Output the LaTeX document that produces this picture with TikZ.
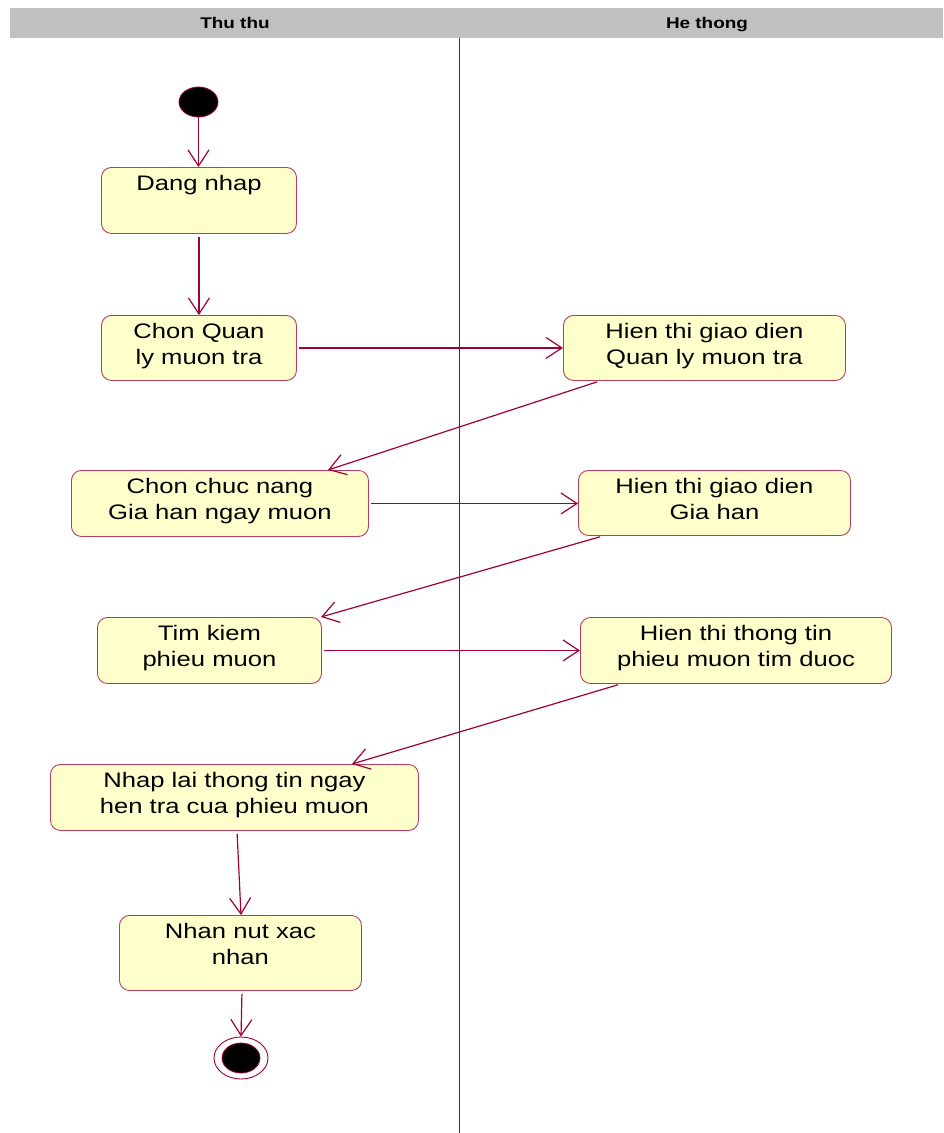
\documentclass[tikz,border=0pt]{standalone}
\usepackage{fontspec}
\usetikzlibrary{arrows.meta,calc,shapes.geometric}
\newfontfamily\boxfont[FakeStretch=1.22]{Liberation Sans}

\definecolor{flow}{RGB}{160,0,55}
\definecolor{edge}{RGB}{185,60,95}
\definecolor{actfill}{RGB}{255,255,204}
\definecolor{lanegray}{RGB}{192,192,192}

\tikzset{
  % two-line activity text: the baseline of the last line is the node's base,
  % so text height covers the top padding plus one line skip
  act/.style={draw=edge, fill=actfill, rounded corners=10pt, line width=0.9pt,
    anchor=north west, inner xsep=0pt, inner ysep=0pt, align=center,
    font=\boxfont\fontsize{21}{26}\selectfont, text height=49pt},
  flowline/.style={draw=flow, line width=1.2pt,
    -{Straight Barb[length=16pt,width=21pt]}},
  lanehead/.style={font=\boxfont\bfseries\fontsize{15.5}{18}\selectfont,
    anchor=base, inner sep=0pt},
  startdot/.style={ellipse, draw=flow, fill=black, line width=0.8pt, inner sep=0pt},
}

\begin{document}
\begin{tikzpicture}[x=1pt,y=-1pt]
\useasboundingbox (0,0) rectangle (943,1133);

% swimlane header and divider
\fill[lanegray] (10,8) rectangle (943,38);
\node[lanehead] (laneA) at (235,28) {Thu thu};
\node[lanehead] (laneB) at (707,28) {He thong};
\coordinate (divtop) at (459.5,38);
\coordinate (divbot) at (459.5,1133);
\draw[flow, line width=1.4pt] (divtop) -- (divbot);

% initial node
\node[startdot, minimum width=39pt, minimum height=30pt] (start) at (198.5,102) {};

% activities: Thu thu lane
\node[act, minimum width=195pt, text depth=17pt] (dn) at (101,167) {Dang nhap\\\mbox{}};
\node[act, minimum width=195pt, text depth=16pt] (cq) at (101,315) {Chon Quan\\ ly muon tra};
\node[act, minimum width=297pt, text depth=17pt] (ccn) at (71,470) {Chon chuc nang\\ Gia han ngay muon};
\node[act, minimum width=224pt, text depth=17pt] (tk) at (97,617) {Tim kiem\\ phieu muon};
\node[act, minimum width=368pt, text depth=17pt] (nl) at (50,764) {Nhap lai thong tin ngay\\ hen tra cua phieu muon};
\node[act, minimum width=242pt, text depth=26pt] (nn) at (119,915) {Nhan nut xac\\ nhan};

% activities: He thong lane
\node[act, minimum width=282pt, text depth=16pt] (htql) at (563,315) {Hien thi giao dien\\ Quan ly muon tra};
\node[act, minimum width=272pt, text depth=16pt] (htgh) at (578,470) {Hien thi giao dien\\ Gia han};
\node[act, minimum width=311pt, text depth=17pt] (httt) at (580,617) {Hien thi thong tin\\ phieu muon tim duoc};

% final node
\node[ellipse, draw=flow, line width=0.9pt, minimum width=54pt, minimum height=42pt, inner sep=0pt] (end) at (241,1058) {};
\node[startdot, minimum width=38pt, minimum height=30pt] (endin) at (end.center) {};

% control flow
\draw[flowline] (start.south) -- (start.south |- dn.north);
\draw[flowline, shorten <=3pt] (dn.south) -- (dn.south |- cq.north);
\draw[flowline, shorten <=2pt] (cq.east) -- (cq.east -| htql.west);
\draw[flowline, shorten <=3pt] ([xshift=37pt]htql.south west) -- ([xshift=257pt]ccn.north west);
\draw[flowline, shorten <=2pt] (ccn.east) -- (ccn.east -| htgh.west);
\draw[flowline, shorten <=3pt] ([xshift=25pt]htgh.south west) -- ([xshift=224pt]tk.north west);
\draw[flowline, shorten <=2pt] (tk.east) -- (tk.east -| httt.west);
\draw[flowline, shorten <=3pt] ([xshift=41pt]httt.south west) -- ([xshift=302pt]nl.north west);
\draw[flowline, shorten <=3pt] ([xshift=187pt]nl.south west) -- ([xshift=122pt]nn.north west);
\draw[flowline, shorten <=3pt] ([xshift=123pt]nn.south west) -- (end.north);
\end{tikzpicture}
\end{document}
